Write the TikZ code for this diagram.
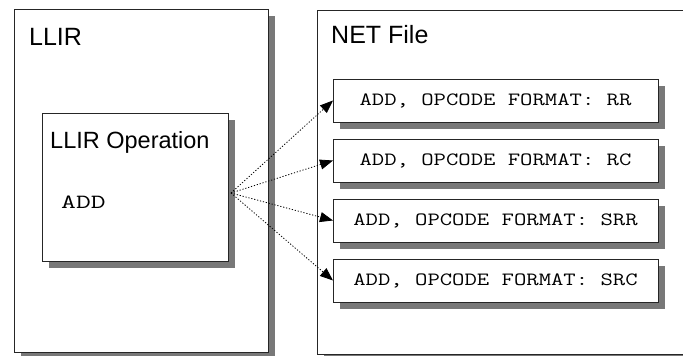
\documentclass[tikz,border=0pt]{standalone}
\usepackage{fontspec}
\setmainfont{Liberation Sans}
\usetikzlibrary{arrows.meta}
\definecolor{shade}{gray}{0.47}
\begin{document}
\begin{tikzpicture}[x=1pt,y=-1pt,
  box/.style={draw=black!85, line width=0.9pt, fill=white, inner sep=0pt, outer sep=0pt,
    preaction={draw=none, fill=shade, transform canvas={shift={(7pt,-7pt)}}}},
  title/.style={anchor=base west, inner sep=0pt, font=\fontsize{25}{25}\selectfont},
  opbox/.style={box, minimum width=325pt, minimum height=43pt,
    font=\ttfamily\fontsize{24}{24}\selectfont},
  link/.style={dash pattern=on 1.2pt off 1.8pt, line width=0.8pt,
    -{Triangle[length=13pt,width=10pt]}}]
\useasboundingbox (0,0) rectangle (683,356);

% containers
\node[box, minimum width=254pt, minimum height=343pt] (llir) at (141,180.5) {};
\node[box, minimum width=372pt, minimum height=344pt] (net) at (503,182) {};
\node[title] (llirt) at (29,45) {LLIR};
\node[title] (nett) at (331,43) {NET File};

% operation box
\node[box, minimum width=186pt, minimum height=148pt] (op) at (135,187) {};
\node[title, font=\fontsize{23.5}{23.5}\selectfont] (opt) at (50,148) {LLIR Operation};
\node[anchor=base west, inner sep=0pt, font=\ttfamily\fontsize{24}{24}\selectfont] (add)
  at (61,208) {\scalebox{1.2}[0.84]{ADD}};

% opcode formats
\node[opbox] (b1) at (495.5,100.5) {\scalebox{1}[0.78]{ADD, OPCODE FORMAT: RR}};
\node[opbox] (b2) at (495.5,160.5) {\scalebox{1}[0.78]{ADD, OPCODE FORMAT: RC}};
\node[opbox] (b3) at (495.5,220.5) {\scalebox{1}[0.78]{ADD, OPCODE FORMAT: SRR}};
\node[opbox] (b4) at (495.5,280.5) {\scalebox{1}[0.78]{ADD, OPCODE FORMAT: SRC}};

% links
\coordinate (src) at (231,193);
\foreach \b in {b1,b2,b3,b4}
  \draw[link] (src) -- (\b.west);
\end{tikzpicture}
\end{document}
